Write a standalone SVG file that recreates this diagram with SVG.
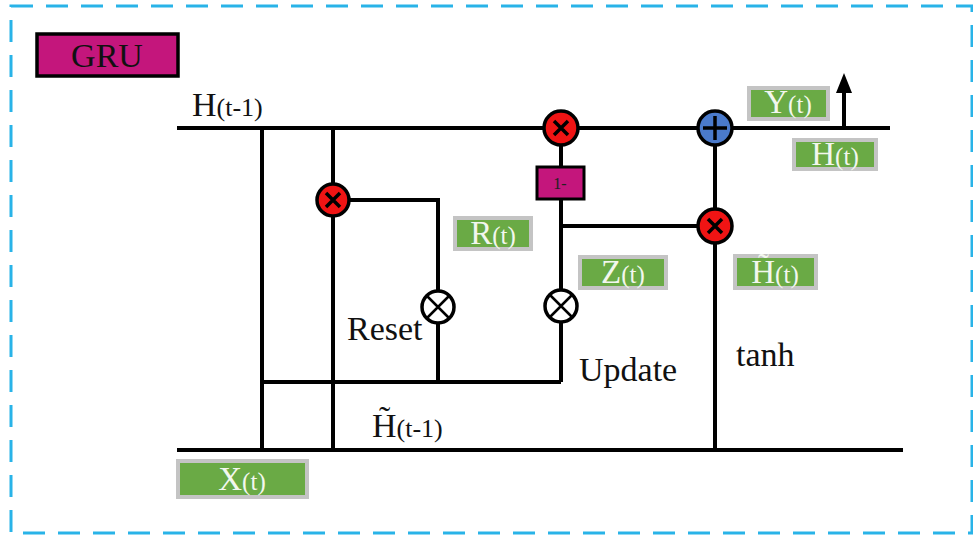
<svg xmlns="http://www.w3.org/2000/svg" width="973" height="536" viewBox="0 0 973 536">
<style>
.ln{stroke:#000;stroke-width:4;fill:none}
.lbl{fill:#6aaa45;stroke:#c4c4c4;stroke-width:4}
.lt{font-family:"Liberation Serif",serif;fill:#f2f7ee;text-anchor:middle;font-size:33px}
.lt tspan{font-size:25px}
.bt{font-family:"Liberation Serif",serif;fill:#111;font-size:34px}
.red{fill:#f01414;stroke:#000;stroke-width:3.5}
.blue{fill:#4a7acb;stroke:#000;stroke-width:3.5}
.wht{fill:#fff;stroke:#000;stroke-width:3.5}
.x{stroke:#000;stroke-width:3.5;fill:none}
.x2{stroke:#000;stroke-width:2.5;fill:none}
</style>
<rect x="11" y="6" width="961" height="527" fill="none" stroke="#29b3e8" stroke-width="3" stroke-dasharray="22,13"/>

<g id="connectors">
<line class="ln" x1="177" y1="128" x2="890" y2="128"/>
<line class="ln" x1="177" y1="450" x2="903" y2="450"/>
<line class="ln" x1="262" y1="128" x2="262" y2="450"/>
<line class="ln" x1="333" y1="128" x2="333" y2="450"/>
<polyline class="ln" points="333,200 438,200 438,382"/>
<line class="ln" x1="262" y1="382" x2="561" y2="382"/>
<line class="ln" x1="561" y1="128" x2="561" y2="382"/>
<line class="ln" x1="561" y1="226" x2="715" y2="226"/>
<line class="ln" x1="715" y1="128" x2="715" y2="450"/>
<line class="ln" x1="844" y1="128" x2="844" y2="90"/>
<polygon points="844,73 836,93 852,93" fill="#000"/>
</g>

<g id="gru">
<rect x="37" y="34" width="141" height="42" fill="#c4167c" stroke="#000" stroke-width="3.5"/>
<text class="bt" x="107" y="67" text-anchor="middle">GRU</text>
</g>

<g id="h_prev">
<text class="bt" x="192" y="116">H<tspan font-size="26">(t-1)</tspan></text>
</g>

<g id="reset_mul">
<circle class="red" cx="333" cy="200" r="16"/>
<path class="x" d="M326,193 L340,207 M340,193 L326,207"/>
</g>

<g id="r_gate">
<circle class="wht" cx="438" cy="307" r="16"/>
<path class="x2" d="M427,296 L449,318 M449,296 L427,318"/>
</g>

<g id="z_gate">
<circle class="wht" cx="561" cy="306" r="16"/>
<path class="x2" d="M550,295 L572,317 M572,295 L550,317"/>
</g>

<g id="top_mul">
<circle class="red" cx="561" cy="128" r="17"/>
<path class="x" d="M554,121 L568,135 M568,121 L554,135"/>
</g>

<g id="one_minus">
<rect x="537" y="167" width="47" height="32" fill="#c4167c" stroke="#000" stroke-width="3"/>
<text x="560" y="189" font-family="Liberation Serif,serif" font-size="16" fill="#222" text-anchor="middle">1-</text>
</g>

<g id="add">
<circle class="blue" cx="715" cy="128" r="17"/>
<path class="x" d="M715,116 L715,140 M703,128 L727,128"/>
</g>

<g id="cand_mul">
<circle class="red" cx="715" cy="226" r="17"/>
<path class="x" d="M708,219 L722,233 M722,219 L708,233"/>
</g>

<g id="yt">
<rect class="lbl" x="749" y="88" width="79" height="31"/>
<text class="lt" x="788" y="113">Y<tspan>(t)</tspan></text>
</g>
<g id="ht">
<rect class="lbl" x="794" y="140" width="82" height="29"/>
<text class="lt" x="835" y="165">H<tspan>(t)</tspan></text>
</g>
<g id="rt">
<rect class="lbl" x="455" y="218" width="76" height="31"/>
<text class="lt" x="493" y="244">R<tspan>(t)</tspan></text>
</g>
<g id="zt">
<rect class="lbl" x="580" y="257" width="86" height="31"/>
<text class="lt" x="623" y="283">Z<tspan>(t)</tspan></text>
</g>
<g id="htilde">
<rect class="lbl" x="735" y="256" width="81" height="32"/>
<text class="lt" x="775" y="283">H&#x303;<tspan>(t)</tspan></text>
</g>
<g id="xt">
<rect class="lbl" x="178" y="461" width="129" height="36"/>
<text class="lt" x="242" y="490">X<tspan>(t)</tspan></text>
</g>

<g id="labels">
<text class="bt" x="347" y="340">Reset</text>
<text class="bt" x="579" y="381">Update</text>
<text class="bt" x="736" y="366">tanh</text>
<text class="bt" x="372" y="437">H&#x303;<tspan font-size="26">(t-1)</tspan></text>
</g>
</svg>
